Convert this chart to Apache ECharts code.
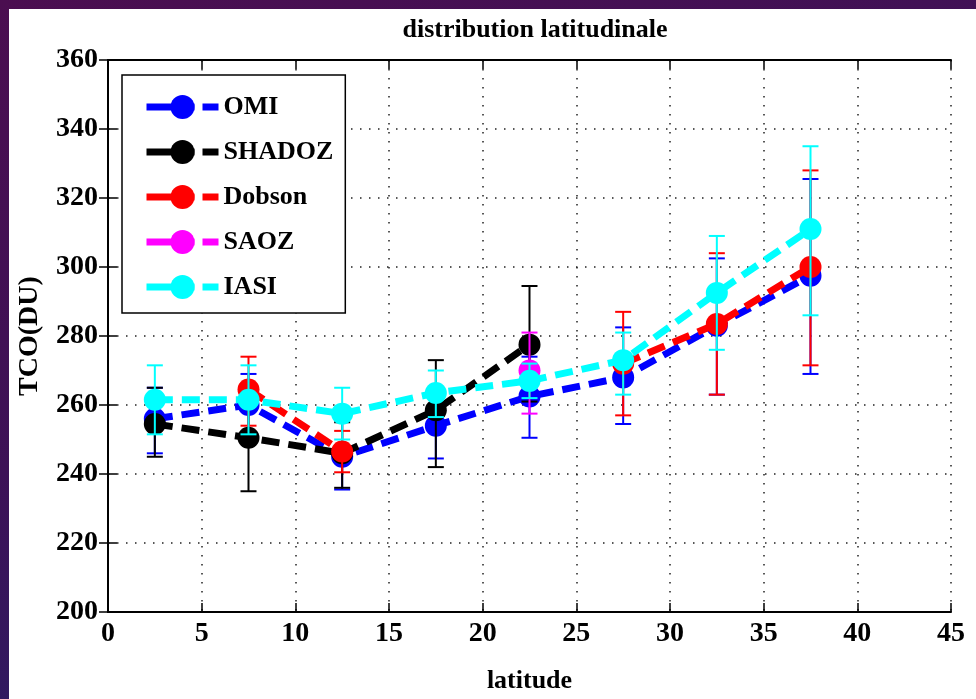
<!DOCTYPE html>
<html>
<head>
<meta charset="utf-8">
<script src="https://cdn.jsdelivr.net/npm/echarts@6/dist/echarts.min.js"></script>
<style>
  html, body { margin: 0; padding: 0; }
  body {
    width: 976px; height: 699px; overflow: hidden; position: relative;
    background: linear-gradient(160deg, #4b0e50 0%, #3d1257 45%, #1f236e 100%);
  }
  #panel { position: absolute; left: 9px; top: 9px; right: 0; bottom: 0; background: #ffffff; }
  #chart { position: absolute; left: 0; top: 0; width: 976px; height: 699px; }
</style>
</head>
<body>
<div id="panel"></div>
<div id="chart"></div>
<script>
// Latitude bands (bin centres, degrees)
const latitudes = [2.5, 7.5, 12.5, 17.5, 22.5, 27.5, 32.5, 37.5];

// Total column ozone (DU) per instrument, with error-bar bounds
const omi      = [256, 260, 245, 254, 262.5, 268, 283, 297.5];
const omiLow   = [246, 250, 235.5, 244.5, 250.5, 254.5, 263, 269];
const omiHigh  = [265, 269, 256, 264, 274, 282.5, 302.5, 325.5];

const shadoz     = [254.5, 250.5, 246, 258.5, 277.5, null, null, null];
const shadozLow  = [245, 235, 236, 242, 261, null, null, null];
const shadozHigh = [265, 266, 255, 273, 294.5, null, null, null];

const dobson     = [null, 264.5, 246.5, null, null, 272, 283.5, 300];
const dobsonLow  = [null, 254, 240.5, null, null, 257, 263, 271.5];
const dobsonHigh = [null, 274, 252.5, null, null, 287, 304, 328];

const saoz     = [null, null, null, null, 270, null, null, null];
const saozLow  = [null, null, null, null, 257.5, null, null, null];
const saozHigh = [null, null, null, null, 281, null, null, null];

const iasi     = [261.5, 261.5, 257.5, 263.5, 267, 273, 292.5, 311];
const iasiLow  = [251.5, 251.5, 250, 256.5, 262, 263, 276, 286];
const iasiHigh = [271.5, 271.5, 265, 270, 272, 281, 309, 335];

const xTicks = { min: 0, max: 45, interval: 5 };
const yTicks = { min: 200, max: 360, interval: 20 };

const instruments = [
  { name: 'OMI',    color: '#0000ff', v: omi,    lo: omiLow,    hi: omiHigh },
  { name: 'SHADOZ', color: '#000000', v: shadoz, lo: shadozLow, hi: shadozHigh },
  { name: 'Dobson', color: '#ff0000', v: dobson, lo: dobsonLow, hi: dobsonHigh },
  { name: 'SAOZ',   color: '#ff00ff', v: saoz,   lo: saozLow,   hi: saozHigh },
  { name: 'IASI',   color: '#00ffff', v: iasi,   lo: iasiLow,   hi: iasiHigh }
];

const serif = '"Liberation Serif", "DejaVu Serif", serif';

function errorBars(color) {
  return function (params, api) {
    const x = api.value(0);
    const p1 = api.coord([x, api.value(1)]);
    const p2 = api.coord([x, api.value(2)]);
    const hw = 8;
    const style = { stroke: color, lineWidth: 2 };
    return {
      type: 'group',
      children: [
        { type: 'line', shape: { x1: p1[0], y1: p1[1], x2: p2[0], y2: p2[1] }, style: style },
        { type: 'line', shape: { x1: p1[0] - hw, y1: p1[1], x2: p1[0] + hw, y2: p1[1] }, style: style },
        { type: 'line', shape: { x1: p2[0] - hw, y1: p2[1], x2: p2[0] + hw, y2: p2[1] }, style: style }
      ]
    };
  };
}

const series = [];
instruments.forEach(function (s, k) {
  const errData = [];
  latitudes.forEach(function (lat, i) {
    if (s.lo[i] != null && s.hi[i] != null) errData.push([lat, s.lo[i], s.hi[i]]);
  });
  series.push({
    name: s.name + ' err',
    type: 'custom',
    z: 2 + k * 2,
    silent: true,
    renderItem: errorBars(s.color),
    encode: { x: 0, y: [1, 2] },
    data: errData
  });
  series.push({
    name: s.name,
    type: 'line',
    z: 3 + k * 2,
    color: s.color,
    symbol: 'circle',
    symbolSize: 22,
    showSymbol: true,
    connectNulls: false,
    lineStyle: { color: s.color, width: 7, type: [18, 9] },
    itemStyle: { color: s.color },
    data: latitudes.map(function (lat, i) { return [lat, s.v[i] == null ? '-' : s.v[i]]; })
  });
});

const axisLabelStyle = { color: '#000', fontFamily: serif, fontWeight: 'bold', fontSize: 28 };
const frameLine = { show: true, lineStyle: { color: '#000', width: 2 } };
const innerTick = { show: true, inside: true, length: 9, lineStyle: { color: '#000', width: 1.5 } };
const dotted = { show: true, lineStyle: { color: '#222', width: 1.5, type: [1.5, 7.5] } };

const chart = echarts.init(document.getElementById('chart'), null, { renderer: 'canvas' });
chart.setOption({
  backgroundColor: 'transparent',
  animation: false,
  title: {
    text: 'distribution latitudinale',
    left: 530,
    textAlign: 'center',
    top: 12,
    textStyle: { color: '#000', fontFamily: serif, fontWeight: 'bold', fontSize: 26 }
  },
  grid: { left: 108, right: 25, top: 60, bottom: 85, containLabel: false },
  legend: {
    data: instruments.map(function (s) { return s.name; }),
    orient: 'vertical',
    left: 122,
    top: 75,
    itemWidth: 72,
    itemHeight: 30,
    itemGap: 19,
    padding: [19, 12, 13, 21],
    backgroundColor: '#fff',
    borderColor: '#000',
    borderWidth: 1.5,
    borderRadius: 0,
    selectedMode: false,
    lineStyle: { width: 7, type: [48, 8] },
    textStyle: { color: '#000', fontFamily: serif, fontWeight: 'bold', fontSize: 26 }
  },
  xAxis: [
    {
      type: 'value', min: xTicks.min, max: xTicks.max, interval: xTicks.interval,
      name: 'latitude', nameLocation: 'middle', nameGap: 56,
      nameTextStyle: { color: '#000', fontFamily: serif, fontWeight: 'bold', fontSize: 26 },
      axisLine: frameLine, axisTick: innerTick,
      axisLabel: Object.assign({ margin: 8 }, axisLabelStyle),
      splitLine: dotted
    },
    {
      type: 'value', position: 'top', min: xTicks.min, max: xTicks.max, interval: xTicks.interval,
      axisLine: frameLine, axisTick: innerTick, axisLabel: { show: false }, splitLine: { show: false }
    }
  ],
  yAxis: [
    {
      type: 'value', min: yTicks.min, max: yTicks.max, interval: yTicks.interval,
      name: 'TCO(DU)', nameLocation: 'middle', nameGap: 64, nameRotate: 90,
      nameTextStyle: { color: '#000', fontFamily: serif, fontWeight: 'bold', fontSize: 28 },
      axisLine: frameLine, axisTick: innerTick,
      axisLabel: Object.assign({ margin: 10 }, axisLabelStyle),
      splitLine: dotted
    },
    {
      type: 'value', position: 'right', min: yTicks.min, max: yTicks.max, interval: yTicks.interval,
      axisLine: frameLine, axisTick: innerTick, axisLabel: { show: false }, splitLine: { show: false }
    }
  ],
  series: series
});
</script>
</body>
</html>
